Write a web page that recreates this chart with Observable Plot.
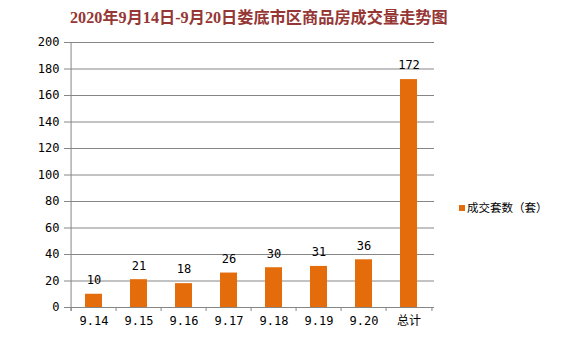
<!DOCTYPE html>
<html>
<head>
<meta charset="utf-8">
<script src="https://cdn.jsdelivr.net/npm/d3@7"></script>
<script src="https://cdn.jsdelivr.net/npm/@observablehq/plot@0.6"></script>
<style>
  body { margin: 0; background: #fff; }
  #wrap { position: relative; width: 578px; height: 362px; overflow: hidden; }
  #title { position: absolute; left: 70px; top: 10px; white-space: nowrap;
    font-family: "Liberation Serif", "Noto Sans CJK SC", serif; font-weight: bold;
    font-size: 16.2px; line-height: 17px; color: #953735; }
  #legend { position: absolute; left: 459px; top: 200px; white-space: nowrap;
    font-family: "Noto Sans CJK SC", sans-serif; font-size: 11.5px; line-height: 14px; color: #000; }
  #legend .sw { display: inline-block; width: 6px; height: 6px; background: #E46C0A; margin-right: 2px; vertical-align: 1px; }
</style>
</head>
<body>
<div id="wrap">
  <div id="title"></div>
  <div id="legend"><span class="sw"></span><span id="lname"></span></div>
  <div id="chart"></div>
</div>
<script>
const title = "2020年9月14日-9月20日娄底市区商品房成交量走势图";
const seriesName = "成交套数（套）";
const categories = ["9.14", "9.15", "9.16", "9.17", "9.18", "9.19", "9.20", "总计"];
const values = [10, 21, 18, 26, 30, 31, 36, 172];
const yTicks = [0, 20, 40, 60, 80, 100, 120, 140, 160, 180, 200];

document.getElementById("title").textContent = title;
document.getElementById("lname").textContent = seriesName;

const data = categories.map((c, i) => ({c, v: values[i]}));
const W = 578, H = 362, mL = 67, mR = 144, mT = 42, mB = 55;
const bw = (W - mL - mR) / categories.length;
const gray = "#868686";
const font = "'DejaVu Sans Mono', 'Noto Sans CJK SC', monospace";

const chart = Plot.plot({
  width: W, height: H,
  marginLeft: mL, marginRight: mR, marginTop: mT, marginBottom: mB,
  style: {fontFamily: font, fontSize: "11px", color: "#000", background: "transparent"},
  x: {domain: categories, padding: 0, label: null},
  y: {domain: [0, 200], label: null},
  marks: [
    Plot.gridY(yTicks, {stroke: gray, strokeOpacity: 1}),
    Plot.ruleX(categories, {x: d => d, dx: -bw / 2, y1: 0, y2: -3, stroke: gray}),
    Plot.ruleX([categories[categories.length - 1]], {x: d => d, dx: bw / 2, y1: 0, y2: -3, stroke: gray}),
    Plot.ruleX([categories[0]], {x: d => d, dx: -bw / 2, y1: -3, y2: 200, stroke: gray}),
    Plot.barY(data, {x: "c", y: "v", fill: "#E46C0A", insetLeft: 14, insetRight: 14}),
    Plot.text(data, {x: "c", y: "v", text: d => String(d.v), dy: -14, fill: "#000", fontSize: 12}),
    Plot.axisY({ticks: yTicks, tickSize: 3, tickPadding: 5, stroke: gray, fill: "#000", fontSize: 12, label: null}),
    Plot.axisX({tickSize: 0, tickPadding: 9, fill: "#000", fontSize: 12, label: null})
  ]
});
document.getElementById("chart").appendChild(chart);
</script>
</body>
</html>
